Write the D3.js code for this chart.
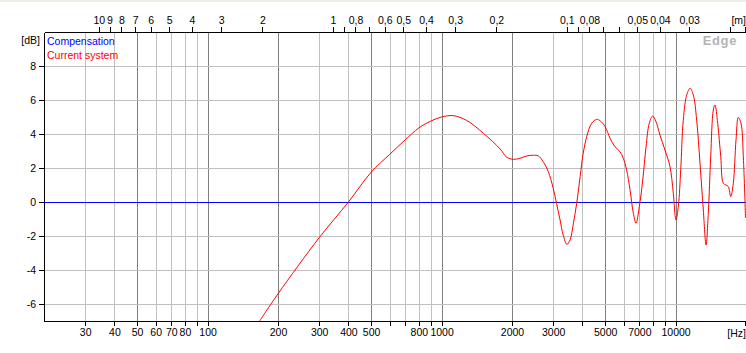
<!DOCTYPE html>
<html>
<head>
<meta charset="utf-8">
<script src="https://cdn.jsdelivr.net/npm/d3@7"></script>
<style>
  body { margin: 0; background: #fff; }
  svg { display: block; font-family: "Liberation Sans", Arial, sans-serif; }
  .axis text { font-family: "Liberation Sans", Arial, sans-serif; font-size: 10.5px; fill: #000; }
  .axis path, .axis line { stroke: #000; shape-rendering: crispEdges; }
  .grid-light { stroke: #c0c0c0; shape-rendering: crispEdges; }
  .grid-dark { stroke: #808080; shape-rendering: crispEdges; }
  .line-comp { fill: none; stroke: #0000ff; stroke-width: 1; shape-rendering: crispEdges; }
  .line-current { fill: none; stroke: #ff0000; stroke-width: 1; }
</style>
</head>
<body>
<svg id="plot" width="746" height="353"></svg>
<script>
// frequency response
var freqHz = [167, 200, 300, 400, 500, 600, 700, 800, 900, 1000,
  1120, 1280, 1510, 1780, 1900, 2030, 2160, 2310, 2470, 2590,
  2720, 2860, 3000, 3100, 3210, 3310, 3430, 3540, 3660, 3780,
  3910, 4030, 4170, 4380, 4600, 4760, 5000, 5250, 5510, 5790,
  5980, 6180, 6390, 6600, 6780, 7000, 7240, 7480, 7720, 7990,
  8250, 8580, 9010, 9470, 9780, 10040, 10290, 10520, 10790, 11160,
  11530, 11910, 12310, 12720, 13140, 13500, 13800, 14130, 14500, 14740,
  15140, 15600, 16000, 16430, 16810, 17210, 17650, 18130, 18540, 19040,
  19480, 19900];
var currentDb = [-7.0, -5.4, -2.1, 0.0, 1.75, 2.8, 3.66, 4.36, 4.76, 5.0,
  5.08, 4.8, 4.04, 3.12, 2.63, 2.51, 2.57, 2.71, 2.75, 2.71,
  2.37, 1.78, 0.81, -0.08, -1.06, -1.94, -2.49, -2.24, -1.25, -0.08,
  1.49, 2.86, 3.84, 4.63, 4.86, 4.78, 4.43, 3.75, 3.25, 2.96,
  2.57, 1.88, 0.71, -0.66, -1.25, -0.28, 1.29, 3.25, 4.63, 5.06,
  4.72, 3.94, 3.06, 2.08, 0.51, -1.06, -0.18, 1.88, 4.82, 6.29,
  6.69, 6.29, 4.82, 2.28, -0.47, -2.53, -0.66, 2.66, 5.41, 5.71,
  4.63, 2.66, 1.10, 1.0, 0.90, 0.31, 1.10, 3.65, 4.98, 4.63,
  2.66, -0.94];
var compFreqHz = [20, 20000];
var compDb = [0, 0];

// axes
var freqTicks = [30, 40, 50, 60, 70, 80, 90, 100, 200, 300, 400, 500, 600, 700, 800, 900,
  1000, 2000, 3000, 4000, 5000, 6000, 7000, 8000, 9000, 10000, 20000];
var freqLabels = [30, 40, 50, 60, 70, 80, 100, 200, 300, 400, 500, 800, 1000, 2000, 3000, 5000, 7000, 10000];
var freqMajor = [50, 100, 200, 500, 1000, 2000, 5000, 10000];
var distTicks = [10, 9, 8, 7, 6, 5, 4, 3, 2, 1, 0.9, 0.8, 0.7, 0.6, 0.5, 0.4, 0.3, 0.2,
  0.1, 0.09, 0.08, 0.07, 0.06, 0.05, 0.04, 0.03, 0.02];
var distLabels = [10, 9, 8, 7, 6, 5, 4, 3, 2, 1, 0.8, 0.6, 0.5, 0.4, 0.3, 0.2, 0.1, 0.08, 0.05, 0.04, 0.03];
var dbTicks = [-6, -4, -2, 0, 2, 4, 6, 8];
var soundSpeed = 343;

var seriesNames = ["Compensation", "Current system"];
var seriesColors = ["#0000ff", "#ff0000"];

var svg = d3.select("#plot"),
    margin = {top: 32, right: 0, bottom: 32, left: 44},
    width = 746 - margin.left - margin.right,
    height = 353 - margin.top - margin.bottom;

svg.append("rect")
  .attr("width", 746).attr("height", 2)
  .attr("fill", "#efeee6");

var g = svg.append("g").attr("transform", "translate(" + margin.left + "," + margin.top + ")");

var x = d3.scaleLog().domain([20, 20000]).range([0, width]);
var xm = d3.scaleLog().domain([soundSpeed / 20, soundSpeed / 20000]).range([0, width]);
var y = d3.scaleLinear().domain([-7, 10]).range([height, 0]);

var px = function (v) { return Math.round(v) + 0.5; };

// grid
g.selectAll(".vgrid")
  .data(freqTicks.filter(function (f) { return f < 20000; }))
  .enter().append("line")
  .attr("class", function (f) { return freqMajor.indexOf(f) >= 0 ? "grid-dark" : "grid-light"; })
  .attr("x1", function (f) { return px(x(f)); })
  .attr("x2", function (f) { return px(x(f)); })
  .attr("y1", 0)
  .attr("y2", height);

g.selectAll(".hgrid")
  .data(dbTicks.filter(function (d) { return d != 0; }))
  .enter().append("line")
  .attr("class", "grid-light")
  .attr("x1", 0)
  .attr("x2", width)
  .attr("y1", function (d) { return px(y(d)); })
  .attr("y2", function (d) { return px(y(d)); });

// axes
var xAxis = d3.axisBottom(x)
  .tickValues(freqTicks)
  .tickSize(5).tickSizeOuter(0)
  .tickFormat(function (t) { return freqLabels.indexOf(t) >= 0 ? String(t) : ""; });

var mAxis = d3.axisTop(xm)
  .tickValues(distTicks)
  .tickSize(5).tickSizeOuter(0)
  .tickFormat(function (t) { return distLabels.indexOf(t) >= 0 ? String(t).replace(".", ",") : ""; });

var yAxis = d3.axisLeft(y)
  .tickValues(dbTicks)
  .tickSize(5).tickSizeOuter(0)
  .tickFormat(function (t) { return String(t); });

g.append("g").attr("class", "axis").attr("transform", "translate(0," + height + ")").call(xAxis);
g.append("g").attr("class", "axis").call(mAxis);
g.append("g").attr("class", "axis").call(yAxis);
g.selectAll(".axis").attr("font-family", null).attr("font-size", null);

// edge ticks at right end
g.append("line").attr("class", "axis-edge")
  .attr("x1", px(width - 1)).attr("x2", px(width - 1)).attr("y1", height).attr("y2", height + 5)
  .attr("stroke", "#000").attr("shape-rendering", "crispEdges");
g.append("line").attr("class", "axis-edge")
  .attr("x1", px(width - 1)).attr("x2", px(width - 1)).attr("y1", -5).attr("y2", 0)
  .attr("stroke", "#000").attr("shape-rendering", "crispEdges");

// units
svg.append("text").attr("x", 746).attr("y", 337).attr("text-anchor", "end")
  .attr("font-size", "10.5px").text("[Hz]");
svg.append("text").attr("x", 746).attr("y", 24).attr("text-anchor", "end")
  .attr("font-size", "10.5px").text("[m]");
svg.append("text").attr("x", 40).attr("y", 44).attr("text-anchor", "end")
  .attr("font-size", "10.5px").text("[dB]");

// curves
g.append("defs").append("clipPath")
  .attr("id", "clip")
  .append("rect")
  .attr("width", width)
  .attr("height", height);

var line = d3.line()
  .x(function (d) { return x(d[0]); })
  .y(function (d) { return y(d[1]); })
  .curve(d3.curveCatmullRom.alpha(0.5));

g.append("g")
  .attr("clip-path", "url(#clip)")
  .append("path")
  .datum(d3.zip(compFreqHz, compDb))
  .attr("class", "line-comp")
  .attr("d", line);

g.append("g")
  .attr("clip-path", "url(#clip)")
  .append("path")
  .datum(d3.zip(freqHz, currentDb))
  .attr("class", "line-current")
  .attr("d", line);

// legend
seriesNames.forEach(function (name, i) {
  g.append("text")
    .attr("x", 3)
    .attr("y", 13 + i * 14)
    .attr("font-size", "10.5px")
    .attr("fill", seriesColors[i])
    .text(name);
});

g.append("text")
  .attr("x", width - 9)
  .attr("y", 13)
  .attr("text-anchor", "end")
  .attr("font-size", "13px")
  .attr("font-weight", "bold")
  .attr("letter-spacing", "0.6px")
  .attr("fill", "#b4b4b4")
  .text("Edge");
</script>
</body>
</html>
